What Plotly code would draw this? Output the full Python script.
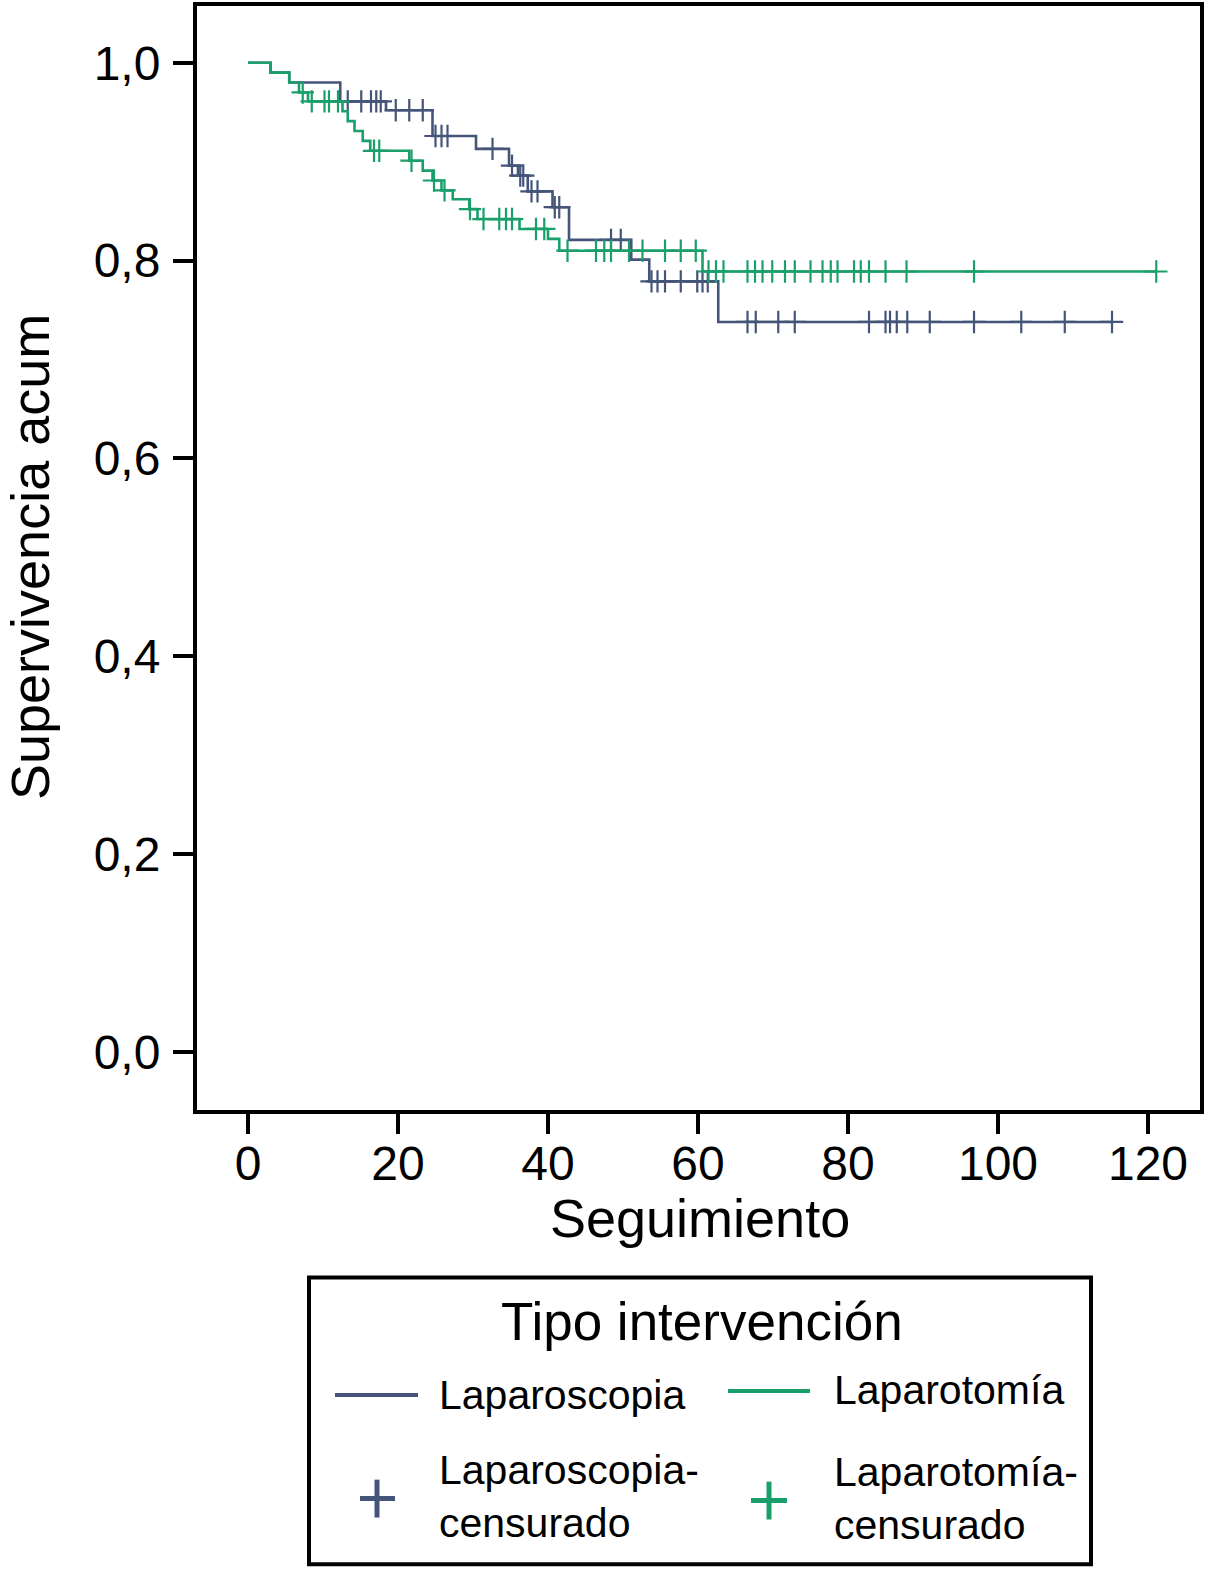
import plotly.graph_objects as go

# ---------------- data ----------------
x_ticks = [0, 20, 40, 60, 80, 100, 120]
y_ticks = [0.0, 0.2, 0.4, 0.6, 0.8, 1.0]
y_tick_labels = ["0,0", "0,2", "0,4", "0,6", "0,8", "1,0"]

lap_name = "Laparoscopia"
lap_times = [3.0, 5.5, 12.3, 18.4, 24.6, 30.4, 34.8, 36.0, 37.3, 40.6, 42.8, 51.1, 53.5, 62.7]
lap_surv = [0.990, 0.980, 0.961, 0.952, 0.926, 0.913, 0.896, 0.886, 0.870, 0.854, 0.821, 0.801, 0.779, 0.738]
lap_end = 115.2
lap_censored = [13.3, 15.1, 16.4, 17.1, 17.7, 19.7, 21.5, 23.3, 25.0, 25.8, 26.6, 32.6, 35.2,
                36.3, 36.7, 37.8, 38.6, 40.9, 41.5, 48.4, 49.7, 53.8, 54.6, 55.6, 57.7, 59.9,
                60.6, 61.3, 66.6, 67.7, 70.7, 72.9, 82.8, 85.0, 85.6, 86.5, 87.9, 90.9, 96.8,
                103.1, 108.9, 115.2]

lapt_name = "Laparotomía"
lapt_times = [3.0, 5.5, 6.8, 8.0, 12.6, 13.3, 14.2, 15.3, 16.3, 21.5, 23.3, 24.6, 25.8, 27.3,
              29.5, 30.6, 36.2, 40.0, 41.5, 60.6]
lapt_surv = [0.990, 0.980, 0.970, 0.961, 0.951, 0.941, 0.931, 0.921, 0.911, 0.901, 0.891, 0.881,
             0.871, 0.862, 0.852, 0.842, 0.832, 0.822, 0.810, 0.789]
lapt_end = 121.1
lapt_censored = [7.3, 8.5, 10.2, 10.8, 12.0, 16.8, 17.5, 21.8, 24.8, 26.2, 29.6, 31.4, 33.5, 34.4,
                 35.2, 38.4, 39.5, 42.6, 46.4, 47.5, 48.4, 50.8, 52.6, 55.6, 57.7, 59.7, 61.4,
                 62.4, 63.4, 66.6, 67.6, 68.6, 69.9, 71.6, 72.9, 75.0, 76.6, 77.7, 78.6, 80.8,
                 81.7, 82.8, 85.0, 87.8, 96.8, 121.1]

BLUE = "#45557a"
GREEN = "#1a9f6b"
FONT = "Liberation Sans, Arial, sans-serif"

W, H = 1209, 1574
ML, MR, MT, MB = 197, 9, 2, 464
PW, PH = W - ML - MR, H - MT - MB


def surv_at(times, surv, t):
    s = 1.0
    for ti, si in zip(times, surv):
        if ti <= t:
            s = si
    return s


def step_xy(times, surv, end):
    xs = [0.0] + list(times) + [end]
    ys = [1.0] + list(surv) + [surv[-1]]
    return xs, ys


def px(xp):
    return (xp - ML) / PW


def py(yp):
    return (H - MB - yp) / PH


fig = go.Figure()
for name, times, surv, end, cens, col in [
    (lap_name, lap_times, lap_surv, lap_end, lap_censored, BLUE),
    (lapt_name, lapt_times, lapt_surv, lapt_end, lapt_censored, GREEN),
]:
    xs, ys = step_xy(times, surv, end)
    fig.add_trace(go.Scatter(x=xs, y=ys, mode="lines", line=dict(color=col, width=2.6, shape="hv"),
                             name=name, showlegend=False))
    fig.add_trace(go.Scatter(x=cens, y=[surv_at(times, surv, t) for t in cens], mode="markers",
                             marker=dict(symbol="cross-thin", size=16, line=dict(color=col, width=2.2)),
                             name=name + "-censurado", showlegend=False))

axis_common = dict(showline=True, linecolor="black", linewidth=4, mirror=True, showgrid=False,
                   zeroline=False, ticks="outside", ticklen=20, tickwidth=3.5, tickcolor="black",
                   tickfont=dict(family=FONT, size=48, color="black"))

fig.update_xaxes(range=[-6.8, 126.93], tickvals=x_ticks, ticklabelstandoff=-12, **axis_common)
fig.update_yaxes(range=[-0.0587, 1.0574], tickvals=y_ticks, ticktext=y_tick_labels,
                 ticklabelstandoff=3, **axis_common)

annotations = [
    dict(x=px(700), y=py(1218), xref="paper", yref="paper", text="Seguimiento", showarrow=False,
         font=dict(family=FONT, size=54, color="black"), xanchor="center", yanchor="middle"),
    dict(x=px(30), y=py(555), xref="paper", yref="paper", text="Supervivencia acum", showarrow=False,
         textangle=-90, font=dict(family=FONT, size=54, color="black"), xanchor="center", yanchor="middle"),
    dict(x=px(702), y=py(1322), xref="paper", yref="paper", text="Tipo intervención", showarrow=False,
         font=dict(family=FONT, size=53, color="black"), xanchor="center", yanchor="middle"),
    dict(x=px(437), y=py(1396), xref="paper", yref="paper", text=lap_name, showarrow=False,
         font=dict(family=FONT, size=41, color="black"), xanchor="left", yanchor="middle"),
    dict(x=px(832), y=py(1391), xref="paper", yref="paper", text=lapt_name, showarrow=False,
         font=dict(family=FONT, size=41, color="black"), xanchor="left", yanchor="middle"),
    dict(x=px(437), y=py(1498), xref="paper", yref="paper", text=lap_name + "-<br>censurado",
         showarrow=False, align="left",
         font=dict(family=FONT, size=41, color="black"), xanchor="left", yanchor="middle"),
    dict(x=px(832), y=py(1500), xref="paper", yref="paper", text=lapt_name + "-<br>censurado",
         showarrow=False, align="left",
         font=dict(family=FONT, size=41, color="black"), xanchor="left", yanchor="middle"),
]

shapes = [
    dict(type="rect", xref="paper", yref="paper", x0=px(309), x1=px(1091), y0=py(1278), y1=py(1566),
         line=dict(color="black", width=4)),
    dict(type="line", xref="paper", yref="paper", x0=px(335), x1=px(418), y0=py(1396), y1=py(1396),
         line=dict(color=BLUE, width=4)),
    dict(type="line", xref="paper", yref="paper", x0=px(728), x1=px(810), y0=py(1392), y1=py(1392),
         line=dict(color=GREEN, width=4)),
    dict(type="line", xref="paper", yref="paper", x0=px(360), x1=px(395), y0=py(1500), y1=py(1500),
         line=dict(color=BLUE, width=5)),
    dict(type="line", xref="paper", yref="paper", x0=px(377), x1=px(377), y0=py(1481), y1=py(1519),
         line=dict(color=BLUE, width=5)),
    dict(type="line", xref="paper", yref="paper", x0=px(751), x1=px(787), y0=py(1502), y1=py(1502),
         line=dict(color=GREEN, width=5)),
    dict(type="line", xref="paper", yref="paper", x0=px(769), x1=px(769), y0=py(1483), y1=py(1521),
         line=dict(color=GREEN, width=5)),
]

fig.update_layout(width=W, height=H, margin=dict(l=ML, r=MR, t=MT, b=MB, pad=0),
                  paper_bgcolor="white", plot_bgcolor="white", showlegend=False,
                  annotations=annotations, shapes=shapes,
                  font=dict(family=FONT, color="black"))

fig.write_html("out.html", config={"displayModeBar": False},
               post_script="document.body.style.margin='0';document.body.style.overflow='hidden';"
                           "document.documentElement.style.overflow='hidden';")
